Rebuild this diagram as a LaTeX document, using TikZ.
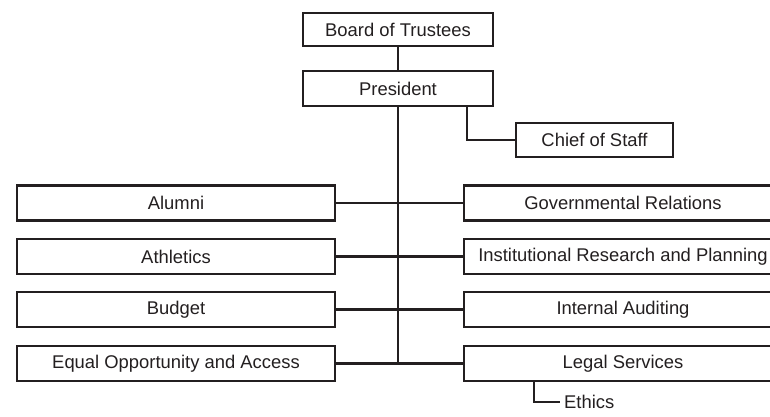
\documentclass[tikz,border=0pt]{standalone}
\usepackage{fontspec}
\setmainfont{Liberation Sans}
\definecolor{ink}{HTML}{231F20}
\begin{document}
\begin{tikzpicture}[x=1pt,y=-1pt,
  box/.style={draw=ink,line width=2.2pt,fill=white,inner sep=0pt,minimum height=35pt,text=ink,font=\fontsize{18.4}{22}\selectfont},
  wide/.style={box,minimum width=318pt},
  link/.style={draw=ink,line width=2.1pt}]
\useasboundingbox (0,0) rectangle (770,417);
\clip (0,0) rectangle (770,417);
% nodes
\node[box,minimum width=190pt,minimum height=33pt] (board) at (398,29.5) {Board of Trustees};
\node[box,minimum width=190pt] (pres) at (398,88.5) {President};
\node[box,minimum width=157pt,minimum height=34pt] (cos) at (594.5,140) {Chief of Staff};
\node[wide] (alumni) at (176,203) {Alumni};
\node[wide] (athl) at (176,256.5) {Athletics};
\node[wide] (budget) at (176,309.5) {Budget};
\node[wide] (eo) at (176,363.5) {Equal Opportunity and Access};
\node[wide] (gov) at (623,203) {Governmental Relations};
\node[wide] (irp) at (623,256.5) {Institutional Research and Planning};
\node[wide] (audit) at (623,309.5) {Internal Auditing};
\node[wide] (legal) at (623,363.5) {Legal Services};
\node[anchor=west,inner sep=0pt,text=ink,font=\fontsize{18.4}{22}\selectfont] (ethics) at (564,402) {Ethics};
\coordinate (csTop) at (467,106);
\coordinate (ethTop) at (534,381);
\coordinate (ethEnd) at (560,402);
\coordinate (trunkEnd) at (pres.south |- eo.east);
% connectors
\draw[link] (board.south) -- (pres.north);
\draw[link] (pres.south) -- (trunkEnd);
\draw[link] (csTop) |- (cos.west);
\draw[link] (alumni.east) -- (gov.west);
\draw[link] (athl.east) -- (irp.west);
\draw[link] (budget.east) -- (audit.west);
\draw[link] (eo.east) -- (legal.west);
\draw[link] (ethTop) |- (ethEnd);
\end{tikzpicture}
\end{document}
